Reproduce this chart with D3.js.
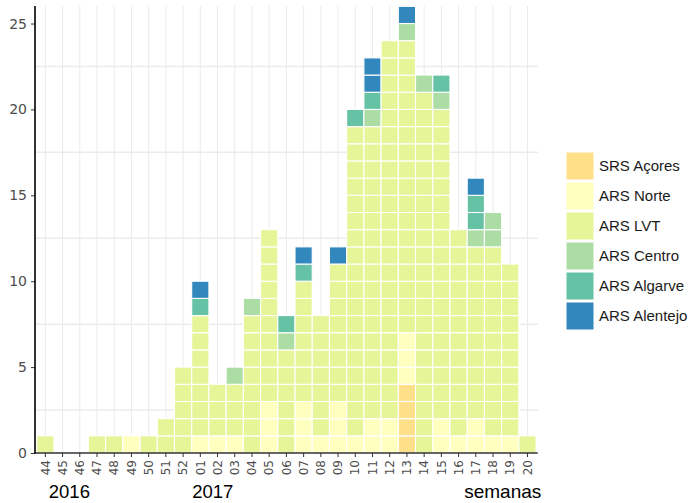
<!DOCTYPE html>
<html>
<head>
<meta charset="utf-8">
<script src="https://cdn.jsdelivr.net/npm/d3@7/dist/d3.min.js"></script>
<style>
  html, body { margin: 0; padding: 0; background: #fff; }
  svg { display: block; }
</style>
</head>
<body>
<svg id="chart" width="692" height="503"></svg>
<script>
const weeks = ["44","45","46","47","48","49","50","51","52","01","02","03","04","05","06","07","08","09","10","11","12","13","14","15","16","17","18","19","20"];
const seriesNames = ["SRS Açores","ARS Norte","ARS LVT","ARS Centro","ARS Algarve","ARS Alentejo"];
const seriesColors = ["#fee08b","#ffffbf","#e6f598","#abdda4","#66c2a5","#3288bd"];
const acores   = [0,0,0,0,0,0,0,0,0, 0,0,0,0,0,0,0,0,0,0,0,0,4,0,0,0,0,0,0,0];
const norte    = [0,0,0,0,0,1,0,0,0, 1,1,1,0,3,0,3,1,3,1,2,2,3,0,2,1,2,1,1,0];
const lvt      = [1,0,0,1,1,0,1,2,5, 7,3,3,8,10,6,7,7,8,18,17,22,17,21,18,12,10,11,10,1];
const centro   = [0,0,0,0,0,0,0,0,0, 0,0,1,1,0,1,0,0,0,0,1,0,1,1,1,0,1,2,0,0];
const algarve  = [0,0,0,0,0,0,0,0,0, 1,0,0,0,0,1,1,0,0,1,1,0,0,0,1,0,2,0,0,0];
const alentejo = [0,0,0,0,0,0,0,0,0, 1,0,0,0,0,0,1,0,1,0,2,0,1,0,0,0,1,0,0,0];
const yTicks = [0,5,10,15,20,25];
const yGrid = [2.5,7.5,12.5,17.5,22.5];
const yearLabels = [{label:"2016", week:"44", shift:0.2},{label:"2017", week:"01", shift:-0.47}];
const xTitle = "semanas";

const seriesValues = [acores, norte, lvt, centro, algarve, alentejo];

const svg = d3.select("#chart");
const pLeft = 35, pRight = 537.8, pBottom = 453, pTop = 6;

const x = d3.scaleBand().domain(weeks).range([pLeft, pRight]).paddingInner(0).paddingOuter(0.1);
const y = d3.scaleLinear().domain([0, 26.02]).range([pBottom, pTop]);

// grid
const grid = svg.append("g");
grid.selectAll("line.v").data(weeks).enter().append("line")
  .attr("x1", d => x(d) + x.bandwidth()/2).attr("x2", d => x(d) + x.bandwidth()/2)
  .attr("y1", pTop).attr("y2", pBottom)
  .attr("stroke", "#ebebeb").attr("stroke-width", 1);
grid.selectAll("line.h").data(yGrid).enter().append("line")
  .attr("x1", pLeft).attr("x2", pRight)
  .attr("y1", d => y(d)).attr("y2", d => y(d))
  .attr("stroke", "#ebebeb").attr("stroke-width", 1.5);

// unit cells
const cells = [];
weeks.forEach((w, i) => {
  let cum = 0;
  seriesValues.forEach((arr, s) => {
    for (let k = 0; k < arr[i]; k++) {
      cells.push({week: w, s: s, y0: cum, y1: cum + 1});
      cum += 1;
    }
  });
});
svg.append("g").selectAll("rect").data(cells).enter().append("rect")
  .attr("x", d => x(d.week))
  .attr("width", x.bandwidth())
  .attr("y", d => y(d.y1))
  .attr("height", d => y(d.y0) - y(d.y1))
  .attr("fill", d => seriesColors[d.s])
  .attr("stroke", "#ffffff")
  .attr("stroke-width", 1.1);

// axes
const yAxis = svg.append("g").attr("transform", `translate(${pLeft},0)`)
  .call(d3.axisLeft(y).tickValues(yTicks).tickSize(4).tickPadding(4));
yAxis.select(".domain").remove();
yAxis.selectAll(".tick line").attr("stroke", "#333").attr("stroke-width", 1);
yAxis.selectAll(".tick text").attr("fill", "#4d4d4d")
  .style("font-family", "'DejaVu Sans', sans-serif").style("font-size", "14px");

const xAxis = svg.append("g").attr("transform", `translate(0,${pBottom})`)
  .call(d3.axisBottom(x).tickSize(4).tickPadding(4));
xAxis.select(".domain").remove();
xAxis.selectAll(".tick line").attr("stroke", "#333").attr("stroke-width", 1);
xAxis.selectAll(".tick text").attr("fill", "#4d4d4d")
  .style("font-family", "'DejaVu Sans', sans-serif").style("font-size", "12px")
  .attr("transform", "rotate(-90)")
  .attr("text-anchor", "end")
  .attr("x", -7).attr("y", 0).attr("dy", "0.35em");

svg.append("line").attr("x1", pLeft).attr("x2", pRight).attr("y1", pBottom).attr("y2", pBottom)
  .attr("stroke", "#333").attr("stroke-width", 1.3);
svg.append("line").attr("x1", pLeft).attr("x2", pLeft).attr("y1", pTop).attr("y2", pBottom + 0.6)
  .attr("stroke", "#000").attr("stroke-width", 1.6);

// year labels & title
const step = x.step();
svg.selectAll("text.year").data(yearLabels).enter().append("text")
  .attr("x", d => x(d.week) + x.bandwidth()/2 + d.shift * step)
  .attr("y", 498)
  .attr("fill", "#000")
  .style("font-family", "'Liberation Sans', Arial, sans-serif").style("font-size", "18.5px")
  .text(d => d.label);
svg.append("text").attr("x", pRight + 3.5).attr("y", 498).attr("text-anchor", "end")
  .attr("fill", "#000")
  .style("font-family", "'Liberation Sans', Arial, sans-serif").style("font-size", "19px")
  .text(xTitle);

// legend
const lg = svg.append("g").attr("transform", "translate(566,152)");
const items = lg.selectAll("g").data(seriesNames).enter().append("g")
  .attr("transform", (d, i) => `translate(0,${i * 30})`);
items.append("rect").attr("width", 28).attr("height", 28)
  .attr("fill", (d, i) => seriesColors[i]).attr("stroke", "#fff").attr("stroke-width", 1);
items.append("text").attr("x", 33).attr("y", 14).attr("dy", "0.35em")
  .attr("fill", "#1a1a1a")
  .style("font-family", "'Liberation Sans', Arial, sans-serif").style("font-size", "15px")
  .text(d => d);
</script>
</body>
</html>
